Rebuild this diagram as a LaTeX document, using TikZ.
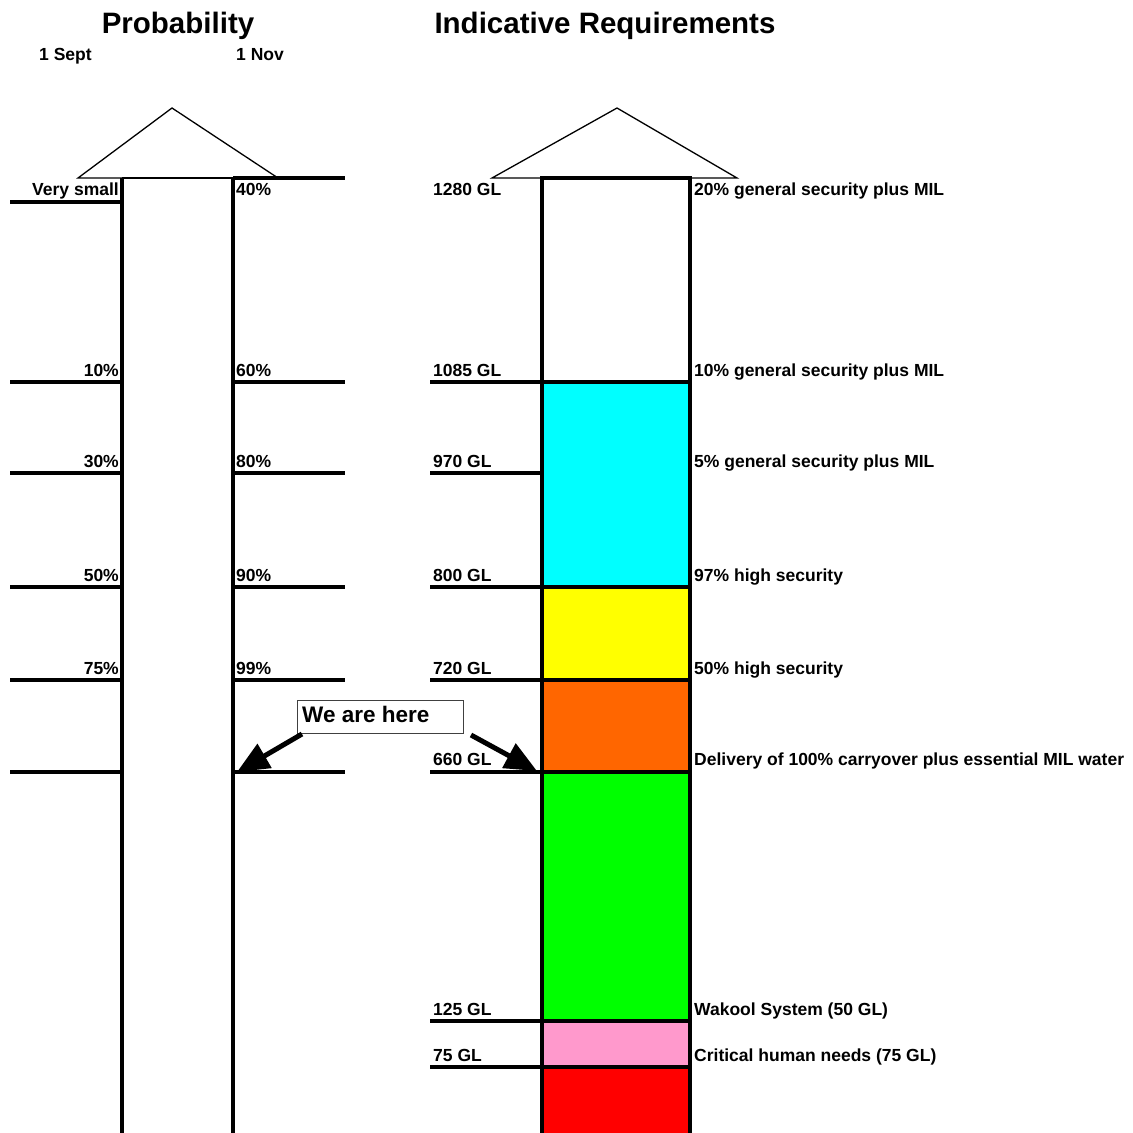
\documentclass[tikz,border=0pt]{standalone}
\usepackage{fontspec}
\setmainfont{Liberation Sans}
\usetikzlibrary{arrows.meta}
\definecolor{bandcyan}{HTML}{00FFFF}
\definecolor{bandyellow}{HTML}{FFFF00}
\definecolor{bandorange}{HTML}{FF6600}
\definecolor{bandgreen}{HTML}{00FF00}
\definecolor{bandpink}{HTML}{FF99CC}
\definecolor{bandred}{HTML}{FF0000}
\begin{document}
\begin{tikzpicture}[x=1pt,y=-1pt,
  heavy/.style={line width=3.3pt},
  light/.style={line width=1.3pt},
  lbl/.style={font=\fontsize{17.5}{20}\selectfont\bfseries, inner sep=0pt},
  ttl/.style={font=\fontsize{29.5}{33}\selectfont\bfseries, inner sep=0pt},
  pointer/.style={line width=5pt, -{Triangle[length=32pt,width=27pt]}}]
\useasboundingbox (0,0) rectangle (1133,1133);

% titles
\node[ttl, anchor=base] (tprob) at (178,33) {Probability};
\node[ttl, anchor=base] (treq) at (605,33) {Indicative Requirements};
\node[lbl, anchor=base west] (dsep) at (39,60) {1 Sept};
\node[lbl, anchor=base west] (dnov) at (236,60) {1 Nov};

% ---------- left column ----------
\draw[light] (78,178) -- (172,108) -- (278,178) -- cycle;
\draw[line width=2pt] (122,178) -- (233,178);
\draw[heavy] (122,178) -- (122,1133);
\draw[heavy] (233,178) -- (233,1133);
\draw[heavy] (233,178) -- (345,178);
\draw[heavy] (10,202) -- (122,202);
\foreach \yy in {382,473,587,680,772}{
  \draw[heavy] (10,\yy) -- (122,\yy);
  \draw[heavy] (233,\yy) -- (345,\yy);
}
\node[lbl, anchor=base east] (pvs) at (119,195) {Very small};
\node[lbl, anchor=base west] (p40) at (236,195) {40\%};
\node[lbl, anchor=base east] (p10) at (119,376) {10\%};
\node[lbl, anchor=base west] (p60) at (236,376) {60\%};
\node[lbl, anchor=base east] (p30) at (119,467) {30\%};
\node[lbl, anchor=base west] (p80) at (236,467) {80\%};
\node[lbl, anchor=base east] (p50) at (119,581) {50\%};
\node[lbl, anchor=base west] (p90) at (236,581) {90\%};
\node[lbl, anchor=base east] (p75) at (119,674) {75\%};
\node[lbl, anchor=base west] (p99) at (236,674) {99\%};

% ---------- right column ----------
\fill[bandcyan]   (542,382) rectangle (690,587);
\fill[bandyellow] (542,587) rectangle (690,680);
\fill[bandorange] (542,680) rectangle (690,772);
\fill[bandgreen]  (542,772) rectangle (690,1021);
\fill[bandpink]   (542,1021) rectangle (690,1067);
\fill[bandred]    (542,1067) rectangle (690,1133);
\draw[light] (492,178) -- (617,108) -- (737,178) -- cycle;
\draw[heavy] (542,1133) -- (542,178) -- (690,178) -- (690,1133);
\foreach \yy in {382,473,587,680,772,1021,1067}{
  \draw[heavy] (430,\yy) -- (542,\yy);
}
\foreach \yy in {382,587,680,772,1021,1067}{
  \draw[heavy] (542,\yy) -- (690,\yy);
}
\node[lbl, anchor=base west] (g1280) at (433,195) {1280 GL};
\node[lbl, anchor=base west] (g1085) at (433,376) {1085 GL};
\node[lbl, anchor=base west] (g970) at (433,467) {970 GL};
\node[lbl, anchor=base west] (g800) at (433,581) {800 GL};
\node[lbl, anchor=base west] (g720) at (433,674) {720 GL};
\node[lbl, anchor=base west] (g660) at (433,765) {660 GL};
\node[lbl, anchor=base west] (g125) at (433,1015) {125 GL};
\node[lbl, anchor=base west] (g75) at (433,1061) {75 GL};

\node[lbl, anchor=base west] (r1) at (694,195) {20\% general security plus MIL};
\node[lbl, anchor=base west] (r2) at (694,376) {10\% general security plus MIL};
\node[lbl, anchor=base west] (r3) at (694,467) {5\% general security plus MIL};
\node[lbl, anchor=base west] (r4) at (694,581) {97\% high security};
\node[lbl, anchor=base west] (r5) at (694,674) {50\% high security};
\node[lbl, anchor=base west] (r6) at (694,765) {Delivery of 100\% carryover plus essential MIL water};
\node[lbl, anchor=base west] (r7) at (694,1015) {Wakool System (50 GL)};
\node[lbl, anchor=base west] (r8) at (694,1061) {Critical human needs (75 GL)};

% ---------- pointer ----------
\draw[line width=0.9pt, draw=black!75, fill=white] (297,700) rectangle (463,733);
\node[font=\fontsize{22.5}{26}\selectfont\bfseries, inner sep=0pt, anchor=base west] (here) at (302,722) {We are here};
\coordinate (hl) at (302,734);
\coordinate (hr) at (471,735);
\coordinate (tipl) at (237,772);
\coordinate (tipr) at (537,771);
\draw[pointer] (hl) -- (tipl);
\draw[pointer] (hr) -- (tipr);
\end{tikzpicture}
\end{document}
